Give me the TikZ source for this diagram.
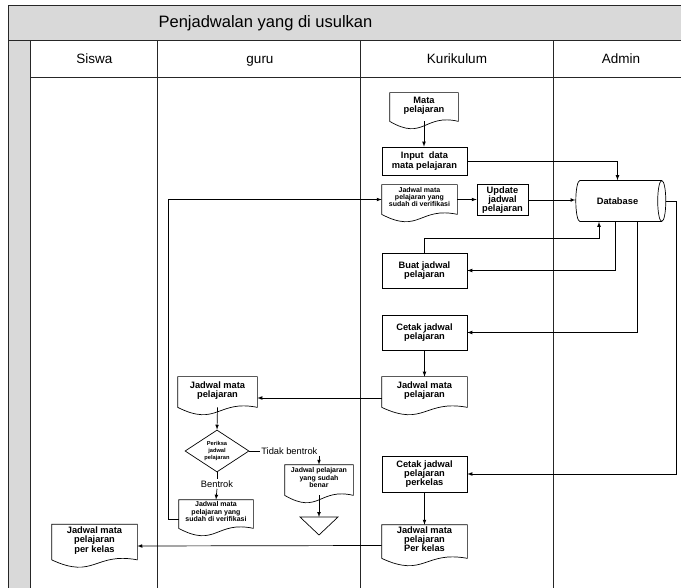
\documentclass[tikz,border=0pt]{standalone}
\usepackage{fontspec}
\setmainfont{Liberation Sans}
\usepackage{tikz}
\usetikzlibrary{arrows,positioning,calc,shapes.geometric}

\definecolor{poolgray}{HTML}{D9D9D9}
\newcommand{\titlefont}{\fontsize{16.5}{19}\selectfont}
\newcommand{\lanefont}{\fontsize{13.5}{16}\selectfont}
\newcommand{\boxfont}{\bfseries\fontsize{9.3}{9.2}\selectfont}
\newcommand{\smallfont}{\bfseries\fontsize{7}{7.1}\selectfont}
\newcommand{\tinyfont}{\bfseries\fontsize{5.7}{6.7}\selectfont}
\newcommand{\lblfont}{\fontsize{9.3}{10}\selectfont}

\tikzset{
  lane/.style={draw=black!85,line width=0.8pt},
  lanehead/.style={anchor=base,font=\lanefont},
  proc/.style={draw,rectangle,align=center,inner sep=1pt,font=\boxfont},
  doc/.style={rectangle,align=center,inner sep=1pt,text depth=5pt,font=\boxfont},
  smalldoc/.style={doc,font=\smallfont},
  lbl/.style={inner sep=1pt,font=\lblfont}
}
%% outline of a document symbol, wave at the bottom
\newcommand{\docframe}[1]{%
  \draw (#1.south west) -- (#1.north west) -- (#1.north east) -- (#1.south east)
    .. controls ($(#1.south)+(0,-8)$) and ($(#1.south)+(0,20)$) .. (#1.south west);}

\begin{document}
\begin{tikzpicture}[x=1pt,y=-1pt,line width=0.7pt,>=latex]
\useasboundingbox (0,0) rectangle (681,588);
%% pool and lanes
\fill[poolgray] (8,5) rectangle (681,40.7);
\fill[poolgray] (8,40.7) rectangle (30,588);
\draw[lane] (681,5) -- (8,5) -- (8,588);
\draw[lane] (8,40.7) -- (681,40.7);
\draw[lane] (30,77) -- (681,77);
\foreach \x in {30,157,360,553}
  \draw[lane] (\x,40.7) -- (\x,588);
\node[font=\titlefont,anchor=base] (title) at (265.5,28) {Penjadwalan yang di usulkan};
\node[lanehead] (siswa) at (94.5,64) {Siswa};
\node[lanehead] (guru) at (260,64) {guru};
\node[lanehead] (kurikulum) at (457,64) {Kurikulum};
\node[lanehead] (admin) at (621,64) {Admin};

%% kurikulum
\node[doc,minimum width=68,minimum height=28] (mata) at (424,107) {Mata\\pelajaran};
\docframe{mata}
\node[proc,minimum width=85,minimum height=28] (input) at (424.5,161) {Input\ \ data\\mata pelajaran};
\node[smalldoc,minimum width=75,minimum height=29] (verif) at (419.5,199.5) {Jadwal mata\\pelajaran yang\\sudah di verifikasi};
\docframe{verif}
\node[proc,minimum width=51,minimum height=31] (update) at (502.5,200) {Update\\jadwal\\pelajaran};
\node[proc,minimum width=85,minimum height=35] (buat) at (424.5,270.5) {Buat jadwal\\pelajaran};
\node[proc,minimum width=85,minimum height=35] (cetak) at (424.5,332.5) {Cetak jadwal\\pelajaran};
\node[doc,minimum width=85,minimum height=30] (jadwal) at (424.5,392) {Jadwal mata\\pelajaran};
\docframe{jadwal}
\node[proc,minimum width=85,minimum height=36] (perkelas) at (424.5,474) {Cetak jadwal\\pelajaran\\perkelas};
\node[doc,minimum width=85,minimum height=33] (perkelasdoc) at (424.5,541.5) {Jadwal mata\\pelajaran\\Per kelas};
\docframe{perkelasdoc}

%% admin
\node[cylinder,draw,shape aspect=0.6,minimum width=41,minimum height=90,font=\boxfont] (db) at (617.5,201) {Database};

%% guru
\node[doc,minimum width=79,minimum height=30] (gurudoc) at (217.5,392) {Jadwal mata\\pelajaran};
\docframe{gurudoc}
\node[diamond,draw,aspect=1.5,inner sep=0pt,minimum width=64,minimum height=42,align=center,font=\tinyfont] (periksa) at (217,451) {Periksa\\jadwal\\pelajaran};
\node[lbl,anchor=west] (tidak) at (260,451) {Tidak bentrok};
\node[lbl] (bentrok) at (217,484) {Bentrok};
\node[smalldoc,minimum width=68,minimum height=30] (benar) at (319,480) {Jadwal pelajaran\\yang sudah\\benar};
\docframe{benar}
\coordinate (stop) at (319,517);
\draw ($(stop)+(-19,0)$) -- ($(stop)+(19,0)$) -- ($(stop)+(0,18)$) -- cycle;
\node[smalldoc,minimum width=74,minimum height=28] (verif2) at (216,514) {Jadwal mata\\pelajaran yang\\sudah di verifikasi};
\docframe{verif2}

%% siswa
\node[doc,minimum width=85,minimum height=35] (siswadoc) at (94.5,542) {Jadwal mata\\pelajaran\\per kelas};
\docframe{siswadoc}

%% connectors
\draw[->] (mata.south) -- (mata.south |- input.north);
\draw[->] (input.east) -| (db.north);
\draw[->] ([yshift=-5pt]verif2.west) -- ++(-10,0) |- (verif.west);
\draw[->] (verif.east) -- (verif.east -| update.west);
\draw[->] (update.east) -- (update.east -| db.west);
\draw[->] (buat.north) -- ++(0,-14) -| ($(db.south)+(-18.5,0)$);
\draw[->] ($(db.south)+(-2.5,0)$) |- (buat.east);
\draw[->] ($(db.south)+(19.5,0)$) |- (cetak.east);
\draw[->] (db.east) -- ++(10,0) |- (perkelas.east);
\draw[->] (cetak.south) -- (jadwal.north);
\draw[->] ([yshift=-6pt]jadwal.west) -- ([yshift=-6pt]gurudoc.east);
\draw[->] (gurudoc.south) -- (periksa.north);
\draw (periksa.east) -- (tidak.west);
\draw[->] (tidak.south -| benar.north) -- (benar.north);
\draw (periksa.south) -- (bentrok.north);
\draw[->] (bentrok.south) -- (verif2.north);
\draw[->] (benar.south) -- (stop);
\draw[->] (perkelas.south) -- (perkelasdoc.north);
\draw[->] ([yshift=-4pt]perkelasdoc.west) -- ([yshift=-4pt]siswadoc.east);
\end{tikzpicture}
\end{document}
